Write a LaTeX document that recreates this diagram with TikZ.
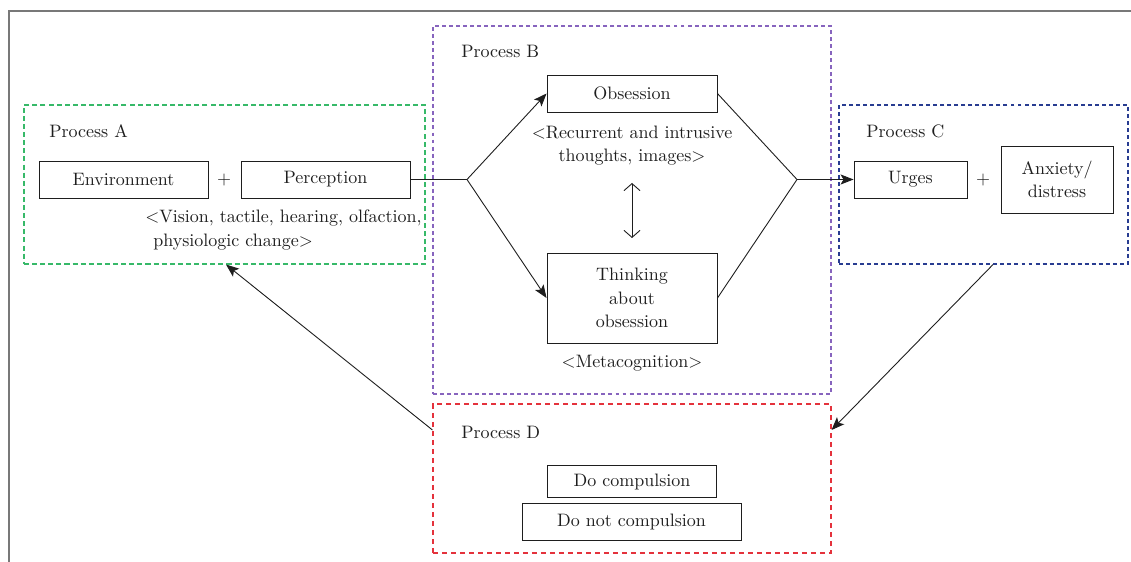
\documentclass[tikz,border=0pt]{standalone}
\usetikzlibrary{arrows.meta}
\definecolor{cA}{RGB}{55,185,105}
\definecolor{cB}{RGB}{135,100,190}
\definecolor{cC}{RGB}{40,60,145}
\definecolor{cD}{RGB}{228,50,60}
\definecolor{ink}{RGB}{30,30,30}
\definecolor{frame}{RGB}{120,120,120}
\begin{document}
\begin{tikzpicture}[x=0.5556pt,y=-0.5556pt,
  every node/.style={font=\fontsize{10}{13.06}\selectfont, text=ink, inner sep=0pt},
  sz/.style 2 args={minimum width=#1*0.5556pt, minimum height=#2*0.5556pt},
  box/.style={draw=ink, line width=0.5pt, rectangle, align=center},
  dbox/.style={rectangle, line width=0.6pt, dash pattern=on 2.2pt off 1.7pt},
  lbl/.style={anchor=west},
  conn/.style={draw=ink, line width=0.5pt},
  arr/.style={conn, -{Stealth[length=7.2pt,width=5.6pt,inset=1.6pt]}},
  dbl/.style={conn, {Straight Barb[length=3.9pt,width=8.9pt]}-{Straight Barb[length=3.9pt,width=8.9pt]}}
]
\useasboundingbox (0,0) rectangle (1131,562);
% outer frame
\draw[frame, line width=0.85pt] (9,562) -- (9,11) -- (1131,11);

% dashed process boxes
\node[dbox, draw=cA, sz={401}{159}, dash pattern=on 2.8pt off 1.7pt] (pa) at (224.5,184.5) {};
\node[dbox, draw=cB, sz={398}{368}] (pb) at (632,210) {};
\node[dbox, draw=cC, sz={289}{159}] (pc) at (983.5,184.5) {};
\node[dbox, draw=cD, dash pattern=on 2.8pt off 2.2pt, sz={398}{149}] (pd) at (632,478.5) {};

% labels
\node[lbl] (la) at (49,131) {Process A};
\node[lbl] (lb) at (461,51) {Process B};
\node[lbl] (lc) at (866,131) {Process C};
\node[lbl] (ld) at (461,432) {Process D};

% Process A
\node[box, sz={169}{37}] (env) at (123.5,179.5) {Environment};
\node (plusA) at (224,180) {+};
\node[box, sz={169}{37}] (perc) at (325.5,179.5) {Perception};
\node[anchor=west] (vis1) at (145,218) {<Vision, tactile, hearing, olfaction,};
\node[anchor=west] (vis2) at (153,242) {physiologic change>};

% Process B
\node[box, sz={170}{37}] (obs) at (632,93.5) {Obsession};
\node (rec1) at (632,133) {<Recurrent and intrusive};
\node (rec2) at (632,157) {thoughts, images>};
\node[box, sz={170}{90}] (think) at (632,298) {Thinking\\about\\obsession};
\node (meta) at (632,363) {<Metacognition>};
\coordinate (dt) at (632,183);
\coordinate (db) at (632,238);

% Process C
\node[box, sz={113}{37}] (urg) at (910.5,179.5) {Urges};
\node (plusC) at (983,180) {+};
\node[box, sz={112}{67}] (anx) at (1057,179.5) {Anxiety/\\distress};

% Process D
\node[box, sz={169}{32}] (doc) at (632,481.5) {Do compulsion};
\node[box, sz={219}{37}] (dnc) at (631.5,521.5) {Do not compulsion};

% connectors
\coordinate (bl) at (467,179.5);
\coordinate (br) at (797,179.5);
\draw[conn] (perc.east) -- (bl);
\draw[arr] (bl) -- (obs.west);
\draw[arr] (bl) -- (think.west);
\draw[conn] (obs.east) -- (br);
\draw[conn] (think.east) -- (br);
\draw[arr] (br) -- (urg.west);
\draw[dbl] (dt) -- (db);
\draw[arr] ([xshift=9.5*0.5556pt]pc.south) -- ([yshift=48.5*0.5556pt]pd.east);
\draw[arr] ([yshift=48.5*0.5556pt]pd.west) -- ([xshift=1.5*0.5556pt]pa.south);
\end{tikzpicture}
\end{document}
